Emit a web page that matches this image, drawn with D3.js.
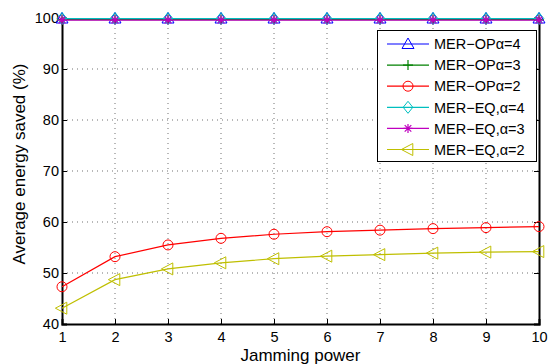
<!DOCTYPE html>
<html>
<head>
<meta charset="utf-8">
<script src="https://cdn.jsdelivr.net/npm/d3@7"></script>
<style>
  html, body { margin: 0; padding: 0; background: #fff; }
  svg { display: block; font-family: "Liberation Sans", Arial, sans-serif; }
</style>
</head>
<body>
<svg id="chart" width="551" height="364"></svg>
<script>
// Jamming power levels on the x axis
const jammingPower = [1, 2, 3, 4, 5, 6, 7, 8, 9, 10];

// Average energy saved (%) for each scheme
const opAlpha4 = [99.9, 99.9, 99.9, 99.9, 99.9, 99.9, 99.9, 99.9, 99.9, 99.9];
const opAlpha3 = [99.7, 99.7, 99.7, 99.7, 99.7, 99.7, 99.7, 99.7, 99.7, 99.7];
const opAlpha2 = [47.3, 53.2, 55.5, 56.8, 57.6, 58.1, 58.4, 58.7, 58.9, 59.1];
const eqAlpha4 = [99.9, 99.9, 99.9, 99.9, 99.9, 99.9, 99.9, 99.9, 99.9, 99.9];
const eqAlpha3 = [99.6, 99.6, 99.6, 99.6, 99.6, 99.6, 99.6, 99.6, 99.6, 99.6];
const eqAlpha2 = [43.1, 48.7, 50.8, 52.0, 52.8, 53.3, 53.6, 53.9, 54.1, 54.2];

const seriesNames = ["MER\u2212OP\u03b1=4", "MER\u2212OP\u03b1=3", "MER\u2212OP\u03b1=2",
                     "MER\u2212EQ,\u03b1=4", "MER\u2212EQ,\u03b1=3", "MER\u2212EQ,\u03b1=2"];
const xTicks = [1, 2, 3, 4, 5, 6, 7, 8, 9, 10];
const yTicks = [40, 50, 60, 70, 80, 90, 100];

const series = [
  { name: seriesNames[0], values: opAlpha4, color: "#0000ff", marker: "triUp" },
  { name: seriesNames[1], values: opAlpha3, color: "#008000", marker: "plus" },
  { name: seriesNames[2], values: opAlpha2, color: "#ff0000", marker: "circle" },
  { name: seriesNames[3], values: eqAlpha4, color: "#00bfbf", marker: "diamond" },
  { name: seriesNames[4], values: eqAlpha3, color: "#bf00bf", marker: "star" },
  { name: seriesNames[5], values: eqAlpha2, color: "#bfbf00", marker: "triLeft" }
];

const svg = d3.select("#chart");
const m = { left: 62, right: 539, top: 18, bottom: 324 };

const x = d3.scaleLinear().domain([1, 10]).range([m.left, m.right]);
const y = d3.scaleLinear().domain([40, 100]).range([m.bottom, m.top]);

// dotted grid
const grid = svg.append("g");
grid.selectAll("line.vx").data(xTicks.slice(1, -1)).join("line")
  .attr("x1", d => x(d)).attr("x2", d => x(d))
  .attr("y1", m.top).attr("y2", m.bottom)
  .attr("stroke", "#333").attr("stroke-width", 0.7).attr("stroke-dasharray", "1,4");
grid.selectAll("line.hy").data(yTicks.slice(1, -1)).join("line")
  .attr("x1", m.left).attr("x2", m.right)
  .attr("y1", d => y(d)).attr("y2", d => y(d))
  .attr("stroke", "#333").attr("stroke-width", 0.7).attr("stroke-dasharray", "1,4");

// axes (ticks pointing inward)
const xAxis = d3.axisBottom(x).tickValues(xTicks).tickSize(-5).tickPadding(8).tickFormat(d3.format("d"));
const yAxis = d3.axisLeft(y).tickValues(yTicks).tickSize(-5).tickPadding(3).tickFormat(d3.format("d"));

const gx = svg.append("g").attr("transform", `translate(0,${m.bottom})`).call(xAxis);
const gy = svg.append("g").attr("transform", `translate(${m.left},0)`).call(yAxis);
[gx, gy].forEach(g => {
  g.select(".domain").attr("stroke", "#000").attr("stroke-width", 2);
  g.selectAll(".tick line").attr("stroke", "#000").attr("stroke-width", 1);
  g.selectAll(".tick text").attr("fill", "#000").attr("font-size", 14.5)
    .attr("font-family", "'Liberation Sans', Arial, sans-serif");
});

// right and top frame
const gr = svg.append("g").attr("transform", `translate(${m.right},0)`)
  .call(d3.axisRight(y).tickValues(yTicks).tickSize(-5).tickFormat(""));
gr.select(".domain").attr("stroke", "#000").attr("stroke-width", 2);
gr.selectAll(".tick line").attr("stroke", "#000");
const gt = svg.append("g").attr("transform", `translate(0,${m.top})`)
  .call(d3.axisTop(x).tickValues(xTicks).tickSize(-5).tickFormat(""));
gt.select(".domain").attr("stroke", "#000").attr("stroke-width", 1);
gt.selectAll(".tick line").attr("stroke", "#000");

// marker drawing
function drawMarker(g, type, cx, cy, color) {
  const s = 6;
  if (type === "triUp") {
    g.append("path").attr("d", `M${cx},${cy - s} L${cx + s},${cy + s * 0.75} L${cx - s},${cy + s * 0.75} Z`)
      .attr("fill", "none").attr("stroke", color).attr("stroke-width", 1);
  } else if (type === "triLeft") {
    g.append("path").attr("d", `M${cx - s * 1.1},${cy} L${cx + s * 0.8},${cy - s} L${cx + s * 0.8},${cy + s} Z`)
      .attr("fill", "none").attr("stroke", color).attr("stroke-width", 1);
  } else if (type === "circle") {
    g.append("circle").attr("cx", cx).attr("cy", cy).attr("r", 5)
      .attr("fill", "none").attr("stroke", color).attr("stroke-width", 1);
  } else if (type === "diamond") {
    g.append("path").attr("d", `M${cx},${cy - s} L${cx + s * 0.8},${cy} L${cx},${cy + s} L${cx - s * 0.8},${cy} Z`)
      .attr("fill", "none").attr("stroke", color).attr("stroke-width", 1);
  } else if (type === "plus") {
    g.append("path").attr("d", `M${cx - 5},${cy} H${cx + 5} M${cx},${cy - 5} V${cy + 5}`)
      .attr("stroke", color).attr("stroke-width", 1.2);
  } else if (type === "star") {
    g.append("path").attr("d",
      `M${cx - 4.5},${cy} H${cx + 4.5} M${cx},${cy - 4.5} V${cy + 4.5} M${cx - 3.3},${cy - 3.3} L${cx + 3.3},${cy + 3.3} M${cx - 3.3},${cy + 3.3} L${cx + 3.3},${cy - 3.3}`)
      .attr("stroke", color).attr("stroke-width", 1.2);
  }
}

// series lines and markers
const line = d3.line().x((d, i) => x(jammingPower[i])).y(d => y(d));
const plot = svg.append("g");
series.forEach(s => {
  plot.append("path").datum(s.values).attr("d", line)
    .attr("fill", "none").attr("stroke", s.color).attr("stroke-width", 1.2);
  const mg = plot.append("g");
  s.values.forEach((v, i) => drawMarker(mg, s.marker, x(jammingPower[i]), y(v), s.color));
});

// legend
const lg = svg.append("g");
lg.append("rect").attr("x", 377.5).attr("y", 30.5).attr("width", 159).attr("height", 131)
  .attr("fill", "#fff").attr("stroke", "#000").attr("stroke-width", 1);
series.forEach((s, i) => {
  const ly = 44 + i * 21.1;
  lg.append("line").attr("x1", 387).attr("x2", 429).attr("y1", ly).attr("y2", ly)
    .attr("stroke", s.color).attr("stroke-width", 1.2);
  drawMarker(lg, s.marker, 408, ly, s.color);
  lg.append("text").attr("x", 434).attr("y", ly).attr("dy", "0.36em")
    .attr("font-size", 14.5).attr("fill", "#000").text(s.name);
});

// axis titles
svg.append("text").attr("x", (m.left + m.right) / 2).attr("y", 361)
  .attr("text-anchor", "middle").attr("font-size", 17).attr("fill", "#000").text("Jamming power");
svg.append("text").attr("transform", `translate(25,164) rotate(-90)`)
  .attr("text-anchor", "middle").attr("font-size", 17).attr("fill", "#000").text("Average energy saved (%)");
</script>
</body>
</html>
